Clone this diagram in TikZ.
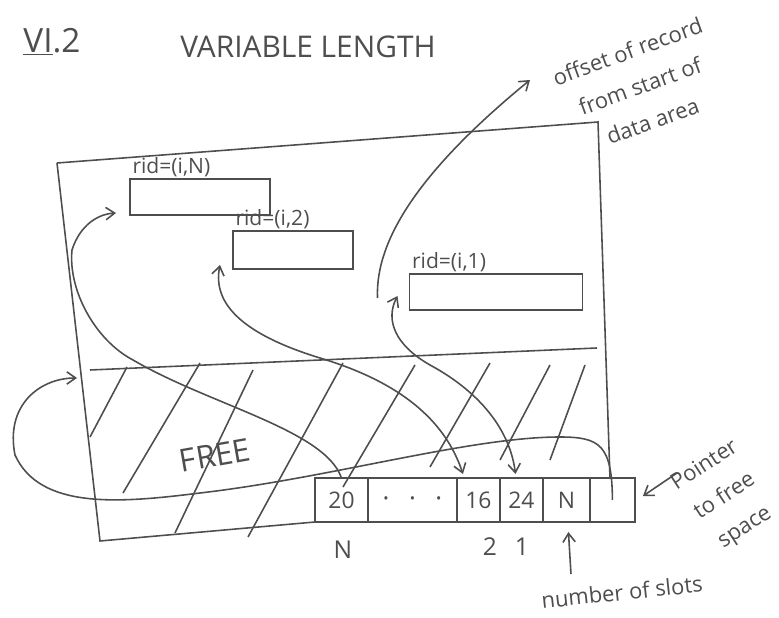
\documentclass[tikz,border=0pt]{standalone}
\usepackage{fontspec}
\setmainfont{Open Sans}
\usepackage{tikz}
\usetikzlibrary{arrows.meta,positioning,calc}
\definecolor{ink}{HTML}{4E4E4E}

\begin{document}
\begin{tikzpicture}[x=0.02cm, y=-0.02cm, color=ink, text=ink, line width=0.9pt,
        >={Straight Barb[length=5pt,width=7pt]},
        slot/.style={draw, minimum height=0.88cm, inner sep=0pt, outer sep=0pt,
            font=\fontsize{13}{15}\selectfont},
        rec/.style={draw, minimum height=0.72cm, inner sep=0pt, outer sep=0pt},
        lbl/.style={font=\fontsize{12}{14}\selectfont, inner sep=1pt},
        note/.style={font=\fontsize{12.5}{21}\selectfont, align=center}]
    \useasboundingbox (0,0) rectangle (779,618);
    % title
    \node[font=\fontsize{19}{20}\selectfont] (sec) at (52,42) {\underline{VI}.2};
    \node[font=\fontsize{17}{20}\selectfont] (title) at (308,47) {VARIABLE LENGTH};
    % slot directory
    \node[slot, minimum width=1.06cm] (s20) at (341.5,500) {20};
    \node[slot, minimum width=1.78cm, right=0pt of s20] (sdots)
        {{\fontsize{8}{8}\selectfont\textbullet\hspace{12pt}\textbullet\hspace{12pt}\textbullet}};
    \node[slot, minimum width=0.86cm, right=0pt of sdots] (s16) {16};
    \node[slot, minimum width=0.86cm, right=0pt of s16] (s24) {24};
    \node[slot, minimum width=0.94cm, right=0pt of s24] (sn) {N};
    \node[slot, minimum width=0.9cm, right=0pt of sn] (sfree) {};
    \node[lbl, font=\fontsize{14}{16}\selectfont] (iN) at (343,550) {N};
    \node[lbl, font=\fontsize{14}{16}\selectfont] (i2) at (490,547) {2};
    \node[lbl, font=\fontsize{14}{16}\selectfont] (i1) at (522,547) {1};
    % page outline
    \coordinate (tl) at (57,163);
    \coordinate (tr) at (598,122);
    \coordinate (br) at (610,478);
    \coordinate (bl) at (100,541);
    \draw (tl) -- (tr) -- (br);
    \draw (tl) -- (bl) -- (s20.south west);
    % free space
    \draw (90,370) -- (597,348);
    \foreach \xa/\ya/\xb/\yb in {90/437/127/367, 123/493/200/363, 175/533/253/370,
            248/537/343/363, 343/487/415/365, 430/467/490/363, 500/460/550/365,
            550/460/585/365}{
        \draw (\xa,\ya) -- (\xb,\yb);
    }
    \node[font=\fontsize{18}{20}\selectfont, rotate=10] (free) at (215,455) {FREE};
    % records
    \node[rec, minimum width=2.8cm] (ridN) at (200,197) {};
    \node[rec, minimum width=2.4cm, minimum height=0.76cm] (rid2) at (293,250) {};
    \node[rec, minimum width=3.46cm] (rid1) at (496,292) {};
    \node[lbl, anchor=south west] (lN) at (ridN.north west) {rid=(i,N)};
    \node[lbl, anchor=south west] (l2) at (rid2.north west) {rid=(i,2)};
    \node[lbl, anchor=south west] (l1) at (rid1.north west) {rid=(i,1)};
    % slots -> records
    \draw[->] (s20.north) .. controls (325,430) and (210,405) .. (133,360)
        .. controls (95,340) and (68,290) .. (72,250)
        .. controls (80,225) and (98,214) .. ($(ridN.south west)+(-14,-2)$);
    \draw[<->] ($(rid2.south west)+(-13,-4)$) .. controls (212,305) and (245,335) .. (320,358)
        .. controls (400,382) and (445,420) .. ($(s16.north west)+(6,-4)$);
    \draw[<->] ($(rid1.west)+(-12,4)$) .. controls (385,320) and (395,345) .. (430,365)
        .. controls (480,392) and (510,430) .. ($(s24.north)+(-6,-4)$);
    % offset note
    \node[note, rotate=20] (offset) at (640,86) {offset of record\\from start of\\data area};
    \coordinate (offtip) at (530,80);
    \draw[->] ($(rid1.west)+(-32,6)$) .. controls (375,240) and (420,170) .. (offtip);
    % pointer to free space
    \coordinate (freetip) at (77,378);
    \draw[->] (sfree.center) .. controls (612,445) and (600,437) .. (560,437)
        .. controls (470,437) and (330,478) .. (200,493)
        .. controls (120,503) and (40,510) .. (15,455)
        .. controls (5,405) and (40,378) .. (freetip);
    \node[note, rotate=33] (ptrtxt) at (725,497) {Pointer\\to free\\space};
    \coordinate (ptrtail) at (677,473);
    \draw[->] (ptrtail) -- ($(sfree.east)+(8,-4)$);
    % number of slots
    \node[note, rotate=6] (nslots) at (622,592) {number of slots};
    \coordinate (nstail) at (571,574);
    \draw[->] (nstail) -- ($(sn.south)+(2,10)$);
\end{tikzpicture}
\end{document}
